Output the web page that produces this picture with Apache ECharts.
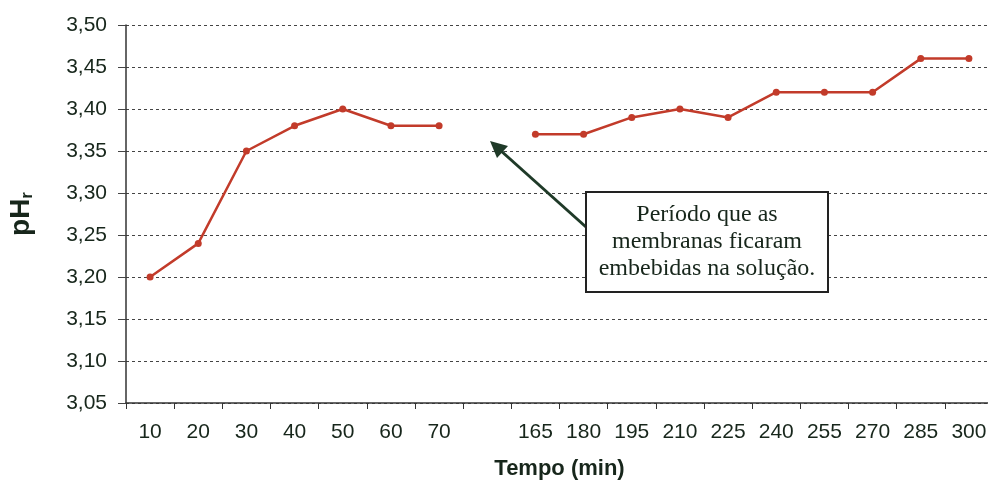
<!DOCTYPE html>
<html lang="pt">
<head>
    <meta charset="UTF-8">
    <title>pHr x Tempo</title>
    <script src="https://cdn.jsdelivr.net/npm/echarts@6.0.0/dist/echarts.min.js"></script>
    <style>
        html, body { margin: 0; padding: 0; background: #fff; }
        #chart { width: 988px; height: 488px; }
    </style>
</head>
<body>
    <div id="chart"></div>
    <script>
        // categorias do eixo x (uma vazia no intervalo em que as membranas ficaram embebidas)
        const tempos = ['10', '20', '30', '40', '50', '60', '70', '', '165', '180', '195', '210', '225', '240', '255', '270', '285', '300'];
        const phr = [3.20, 3.24, 3.35, 3.38, 3.40, 3.38, 3.38, null, 3.37, 3.37, 3.39, 3.40, 3.39, 3.42, 3.42, 3.42, 3.46, 3.46];
        const yMin = 3.05, yMax = 3.50, yStep = 0.05;
        const nota = ['Período que as', 'membranas ficaram', 'embebidas na solução.'];

        const textColor = '#17261b';
        const arrowColor = '#1f3a28';

        const chart = echarts.init(document.getElementById('chart'));
        chart.setOption({
            animation: false,
            backgroundColor: '#fff',
            grid: { left: 126, right: -5, top: 25, bottom: 85, outerBoundsMode: 'none' },
            xAxis: {
                type: 'category',
                data: tempos,
                boundaryGap: true,
                name: 'Tempo (min)',
                nameLocation: 'middle',
                nameGap: 55,
                nameTextStyle: { fontFamily: 'Liberation Sans', fontSize: 22, fontWeight: 'bold', color: textColor },
                axisLine: { lineStyle: { color: '#333', width: 1.5 } },
                axisTick: { show: true, length: 6, lineStyle: { color: '#333' } },
                axisLabel: { fontFamily: 'Liberation Sans', fontSize: 21, color: textColor, margin: 19, interval: 0 },
                splitLine: { show: false }
            },
            yAxis: {
                type: 'value',
                min: yMin,
                max: yMax,
                interval: yStep,
                name: 'pH{s|r}',
                nameLocation: 'middle',
                nameGap: 90,
                nameTextStyle: {
                    fontFamily: 'Liberation Sans', fontSize: 28, fontWeight: 'bold', color: textColor,
                    rich: { s: { fontFamily: 'Liberation Sans', fontSize: 17, fontWeight: 'bold', color: textColor, padding: [12, 0, 0, 0] } }
                },
                axisLine: { show: true, lineStyle: { color: '#333', width: 1.5 } },
                axisTick: { show: true, length: 8, lineStyle: { color: '#444' } },
                axisLabel: {
                    fontFamily: 'Liberation Sans', fontSize: 21, color: textColor, margin: 19,
                    formatter: v => v.toFixed(2).replace('.', ',')
                },
                splitLine: { show: true, lineStyle: { color: '#444', width: 1, type: [3, 3] } }
            },
            series: [{
                type: 'line',
                data: phr,
                connectNulls: false,
                symbol: 'circle',
                symbolSize: 7,
                lineStyle: { color: '#c23b2a', width: 2.5 },
                itemStyle: { color: '#c23b2a' }
            }],
            graphic: [
                {
                    type: 'line',
                    shape: { x1: 586, y1: 227, x2: 500, y2: 150 },
                    style: { stroke: arrowColor, lineWidth: 3 },
                    z: 10
                },
                {
                    type: 'polygon',
                    shape: { points: [[490, 141], [508, 146], [497, 158]] },
                    style: { fill: arrowColor },
                    z: 10
                },
                {
                    type: 'rect',
                    shape: { x: 586, y: 192, width: 242, height: 100 },
                    style: { fill: '#fff', stroke: '#222', lineWidth: 2 },
                    z: 10
                },
                {
                    type: 'text',
                    x: 707,
                    y: 242,
                    style: {
                        text: nota.join('\n'),
                        fontFamily: 'Liberation Serif',
                        fontSize: 24,
                        lineHeight: 27,
                        fill: textColor,
                        align: 'center',
                        verticalAlign: 'middle'
                    },
                    z: 11
                }
            ]
        });
    </script>
</body>
</html>
